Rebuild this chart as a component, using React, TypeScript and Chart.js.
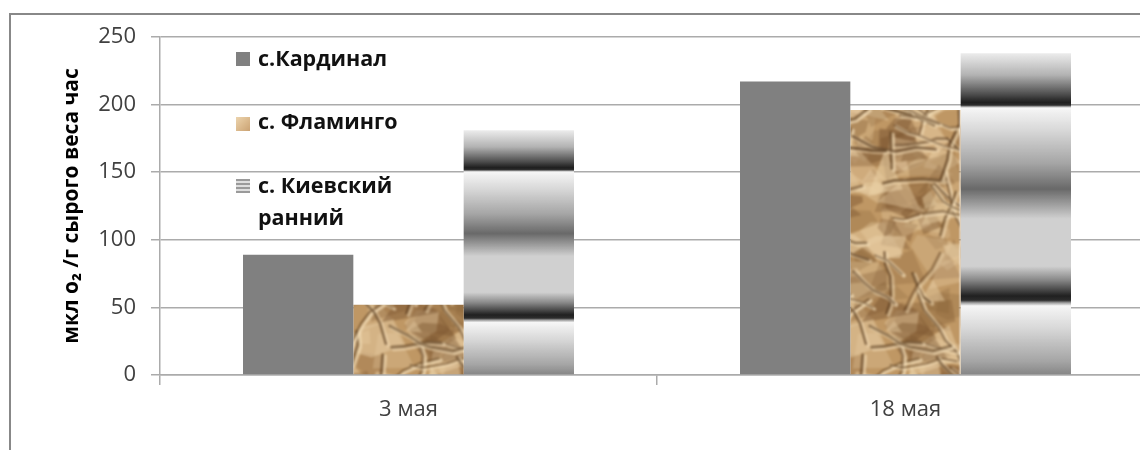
import React, { useEffect, useRef } from 'react';
import { Chart, registerables } from 'chart.js';

Chart.register(...registerables);

// ---- data ----
const categories = ['3 мая', '18 мая'];
const kardinal = [89, 217];
const flamingo = [52, 196];
const kievskiy = [181, 238];
const seriesNames = ['с.Кардинал', 'с. Фламинго', 'с. Киевский ранний'];
const legendLines = [['с.Кардинал'], ['с. Фламинго'], ['с. Киевский', 'ранний']];
const yTicks = [0, 50, 100, 150, 200, 250];
const yTitle = 'мкл о₂ /г сырого веса час';

const FONT = '"Open Sans", "Noto Sans", "DejaVu Sans", sans-serif';
const GRID = '#ababab';
const TEXT = '#404040';

// small deterministic PRNG for the paper texture
function mulberry32(seed: number) {
  return function () {
    let t = (seed += 0x6d2b79f5);
    t = Math.imul(t ^ (t >>> 15), t | 1);
    t ^= t + Math.imul(t ^ (t >>> 7), t | 61);
    return ((t ^ (t >>> 14)) >>> 0) / 4294967296;
  };
}

// crumpled kraft-paper tile
function makePaperTile(): HTMLCanvasElement {
  const W = 240;
  const H = 420;
  const raw = document.createElement('canvas');
  raw.width = W;
  raw.height = H;
  const g = raw.getContext('2d')!;
  const rnd = mulberry32(23);
  g.fillStyle = '#bf9764';
  g.fillRect(0, 0, W, H);
  // facets: flat patches of light and shadow
  for (let i = 0; i < 320; i++) {
    const cx = rnd() * W;
    const cy = rnd() * H;
    const r = 10 + rnd() * 26;
    const n = 3 + Math.floor(rnd() * 3);
    const light = rnd();
    const col =
      light > 0.45
        ? `rgba(234,208,166,${0.25 + 0.35 * rnd()})`
        : `rgba(124,86,48,${0.2 + 0.3 * rnd()})`;
    g.beginPath();
    for (let k = 0; k < n; k++) {
      const a = (k / n) * Math.PI * 2 + rnd() * 0.9;
      const rr = r * (0.5 + rnd() * 0.7);
      const x = cx + Math.cos(a) * rr;
      const y = cy + Math.sin(a) * rr * 0.8;
      if (k) g.lineTo(x, y);
      else g.moveTo(x, y);
    }
    g.closePath();
    g.fillStyle = col;
    g.fill();
  }
  // creases: dark fold shadow with a bright ridge beside it
  for (let i = 0; i < 105; i++) {
    let x = rnd() * W;
    let y = rnd() * H;
    let ang = (rnd() < 0.6 ? 0.6 : -0.8) + (rnd() - 0.5) * 1.2;
    const pts: [number, number][] = [[x, y]];
    const segs = 2 + Math.floor(rnd() * 4);
    for (let s = 0; s < segs; s++) {
      const len = 8 + rnd() * 16;
      ang += (rnd() - 0.5) * 1.0;
      x += Math.cos(ang) * len;
      y += Math.sin(ang) * len;
      pts.push([x, y]);
    }
    const w = 1.4 + rnd() * 1.6;
    g.lineJoin = 'round';
    g.lineCap = 'round';
    g.beginPath();
    pts.forEach(([px, py], k) => (k ? g.lineTo(px + 2.2, py + 1.6) : g.moveTo(px + 2.2, py + 1.6)));
    g.strokeStyle = `rgba(242,220,182,${0.45 + 0.3 * rnd()})`;
    g.lineWidth = w + 1.5;
    g.stroke();
    g.beginPath();
    pts.forEach(([px, py], k) => (k ? g.lineTo(px, py) : g.moveTo(px, py)));
    g.strokeStyle = `rgba(84,54,24,${0.45 + 0.3 * rnd()})`;
    g.lineWidth = w;
    g.stroke();
  }
  const out = document.createElement('canvas');
  out.width = W;
  out.height = H;
  const o = out.getContext('2d')!;
  o.filter = 'blur(0.9px)';
  o.drawImage(raw, 0, 0);
  return out;
}

// grey bands of the striped fill, u = position within one repeat (0..1)
const bandStops: [number, number][] = [
  [0, 246], [0.12, 214], [0.28, 165], [0.41, 105], [0.49, 160], [0.56, 208],
  [0.8, 208], [0.87, 135], [0.95, 32], [0.972, 45], [0.985, 160], [1, 244],
];
// the short leading piece at the top of each bar
const topStops: [number, number][] = [
  [0, 236], [0.4, 178], [0.75, 78], [0.9, 30], [0.95, 45], [0.975, 160], [1, 244],
];
function interp(stops: [number, number][], u: number): number {
  for (let i = 1; i < stops.length; i++) {
    const [u1, g1] = stops[i];
    const [u0, g0] = stops[i - 1];
    if (u <= u1) return g0 + ((g1 - g0) * (u - u0)) / (u1 - u0);
  }
  return stops[stops.length - 1][1];
}

function stripeGradient(ctx: CanvasRenderingContext2D, top: number, bottom: number) {
  const grad = ctx.createLinearGradient(0, top, 0, bottom);
  const a = 0.17; // leading part before the first full repeat
  const t = 0.615; // repeat length as share of the bar height
  const N = 400;
  for (let i = 0; i <= N; i++) {
    const p = i / N;
    let gv: number;
    if (p < a) gv = interp(topStops, p / a);
    else if (p < a + t) gv = interp(bandStops, (p - a) / t);
    else gv = interp(bandStops, (p - a - t) / t);
    gv = Math.round(Math.max(0, Math.min(255, gv)));
    grad.addColorStop(p, `rgb(${gv},${gv},${gv})`);
  }
  return grad;
}

export default function App() {
  const canvasRef = useRef<HTMLCanvasElement | null>(null);

  useEffect(() => {
    const canvas = canvasRef.current;
    if (!canvas) return;
    const ctx = canvas.getContext('2d')!;
    const paperTile = makePaperTile();
    const paper = ctx.createPattern(paperTile, 'repeat')!;

    const legendPlugin = {
      id: 'insideLegend',
      afterDraw(chart: any) {
        const c: CanvasRenderingContext2D = chart.ctx;
        const area = chart.chartArea;
        const x0 = area.left + 76;
        const tx = area.left + 98;
        const boxTops = [52, 117, 179];
        const baselines = [[66], [129], [193, 225]];
        c.save();
        // swatches
        c.fillStyle = '#808080';
        c.fillRect(x0, boxTops[0], 14, 14);
        const sg = c.createLinearGradient(x0, boxTops[1], x0 + 14, boxTops[1] + 14);
        sg.addColorStop(0, '#ecd4ae');
        sg.addColorStop(0.5, '#dcbb8f');
        sg.addColorStop(1, '#caa273');
        c.fillStyle = sg;
        c.fillRect(x0, boxTops[1], 14, 14);
        for (let k = 0; k < 7; k++) {
          c.fillStyle = k % 2 === 0 ? '#9a9a9a' : '#dedede';
          c.fillRect(x0, boxTops[2] + k * 2, 14, 2);
        }
        // labels
        c.fillStyle = '#111';
        c.font = `bold 21.5px ${FONT}`;
        c.textAlign = 'left';
        c.textBaseline = 'alphabetic';
        legendLines.forEach((lines, i) => {
          lines.forEach((line, j) => c.fillText(line, tx, baselines[i][j]));
        });
        c.restore();
      },
    };

    const chart = new Chart(ctx, {
      type: 'bar',
      data: {
        labels: categories,
        datasets: [
          { label: seriesNames[0], data: kardinal, backgroundColor: '#808080' },
          { label: seriesNames[1], data: flamingo, backgroundColor: paper as any },
          {
            label: seriesNames[2],
            data: kievskiy,
            backgroundColor: (c: any) => {
              const ys = c.chart.scales?.y;
              if (!ys || c.type !== 'data') return '#bbbbbb';
              const top = ys.getPixelForValue(c.raw as number);
              const bot = ys.getPixelForValue(0);
              if (!isFinite(top) || !isFinite(bot) || bot - top < 2) return '#bbbbbb';
              return stripeGradient(c.chart.ctx, top, bot);
            },
          },
        ],
      },
      options: {
        responsive: false,
        animation: false,
        devicePixelRatio: 1,
        layout: { padding: { left: 0, right: 6, top: 37, bottom: 0 } },
        datasets: { bar: { categoryPercentage: 0.666, barPercentage: 1, borderWidth: 0 } },
        plugins: { legend: { display: false }, tooltip: { enabled: false } },
        scales: {
          x: {
            grid: { drawOnChartArea: false, drawTicks: true, tickLength: 10, color: GRID, lineWidth: 1.5, offset: true },
            border: { display: true, color: GRID, width: 1.5 },
            ticks: { color: TEXT, font: { family: FONT, size: 22 }, padding: 12 },
            afterFit: (s: any) => {
              s.height = 75;
            },
          },
          y: {
            min: 0,
            max: 250,
            afterBuildTicks: (s: any) => {
              s.ticks = yTicks.map((v) => ({ value: v }));
            },
            grid: { color: GRID, lineWidth: 1.5, tickLength: 9, drawTicks: true },
            border: { display: true, color: GRID, width: 1.5 },
            ticks: { color: TEXT, font: { family: FONT, size: 22 }, padding: 15 },
            title: {
              display: true,
              text: yTitle,
              color: '#000',
              font: { family: FONT, size: 21, weight: 'bold' },
              padding: { top: 59, bottom: 0 },
            },
            afterFit: (s: any) => {
              s.width = 160;
            },
          },
        },
      },
      plugins: [legendPlugin],
    });
    return () => chart.destroy();
  }, []);

  return (
    <div style={{ position: 'relative', width: 1140, height: 450, overflow: 'hidden', background: '#fff' }}>
      <style>{'body{margin:0}'}</style>
      <canvas ref={canvasRef} width={1160} height={450} style={{ position: 'absolute', left: 0, top: 0, width: 1160, height: 450 }} />
      <div
        style={{
          position: 'absolute',
          left: 9,
          top: 13,
          width: 1200,
          height: 500,
          borderTop: '2px solid #888',
          borderLeft: '2px solid #888',
          pointerEvents: 'none',
        }}
      />
    </div>
  );
}
